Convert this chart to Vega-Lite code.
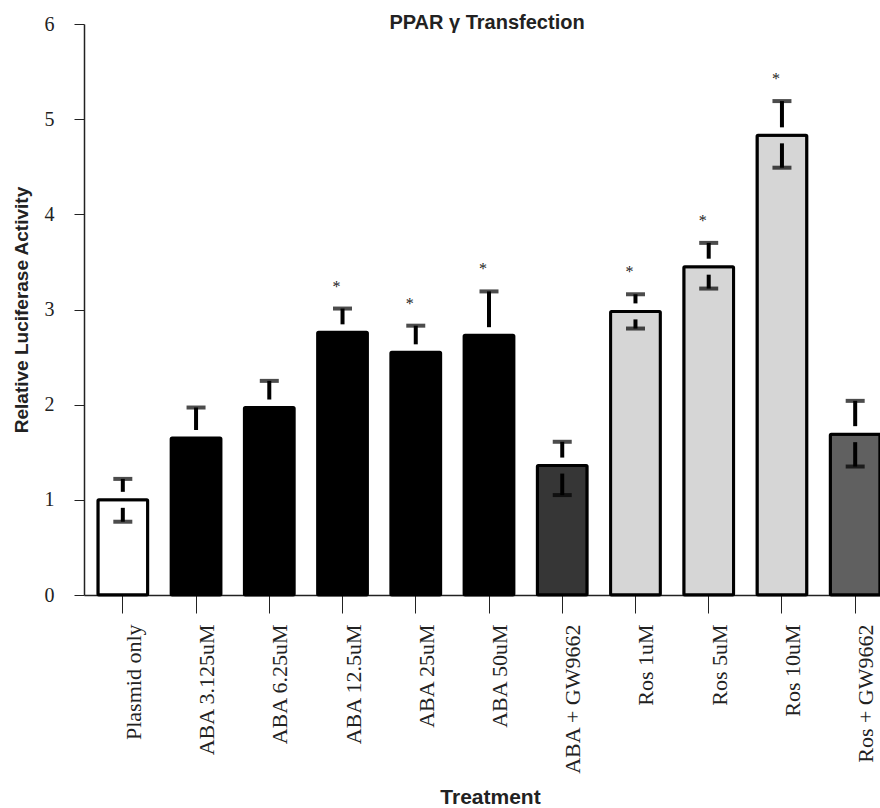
{
  "$schema": "https://vega.github.io/schema/vega-lite/v6.json",
  "autosize": {"type": "none"},
  "width": 796,
  "height": 571,
  "padding": {"left": 84, "top": 24, "right": 0, "bottom": 213},
  "background": "white",
  "config": {"view": {"stroke": null}},
  "title": {"text": "PPAR γ Transfection", "font": "Liberation Sans", "fontSize": 20, "fontWeight": "bold", "color": "#222", "anchor": "middle", "offset": -19, "dx": 5},
  "data": {"values": [
    {"t": "Plasmid only", "v": 1.0, "up": 1.22, "lo": 0.77, "sig": "", "grp": "ctrl"},
    {"t": "ABA 3.125uM", "v": 1.65, "up": 1.97, "lo": 1.33, "sig": "", "grp": "aba"},
    {"t": "ABA 6.25uM", "v": 1.97, "up": 2.25, "lo": 1.69, "sig": "", "grp": "aba"},
    {"t": "ABA 12.5uM", "v": 2.76, "up": 3.01, "lo": 2.51, "sig": "*", "grp": "aba"},
    {"t": "ABA 25uM", "v": 2.55, "up": 2.83, "lo": 2.27, "sig": "*", "grp": "aba"},
    {"t": "ABA 50uM", "v": 2.73, "up": 3.19, "lo": 2.27, "sig": "*", "grp": "aba"},
    {"t": "ABA + GW9662", "v": 1.36, "up": 1.61, "lo": 1.05, "sig": "", "grp": "abagw"},
    {"t": "Ros 1uM", "v": 2.98, "up": 3.16, "lo": 2.80, "sig": "*", "grp": "ros"},
    {"t": "Ros 5uM", "v": 3.45, "up": 3.70, "lo": 3.22, "sig": "*", "grp": "ros"},
    {"t": "Ros 10uM", "v": 4.83, "up": 5.19, "lo": 4.49, "sig": "*", "grp": "ros"},
    {"t": "Ros + GW9662", "v": 1.69, "up": 2.04, "lo": 1.35, "sig": "", "grp": "rosgw"}
  ]},
  "encoding": {
    "x": {
      "field": "t", "type": "nominal", "sort": null,
      "scale": {"range": [0, 810], "paddingInner": 0.32, "paddingOuter": 0.19},
      "axis": {
        "title": "Treatment", "titleFont": "Liberation Sans", "titleFontSize": 21, "titleFontWeight": "bold", "titleColor": "#222",
        "titleX": 406, "titleY": 191, "titleBaseline": "top",
        "labelAngle": -90, "labelFont": "Liberation Serif", "labelFontSize": 22, "labelColor": "#222",
        "labelPadding": 11, "labelOffset": 11,
        "tickSize": 18, "tickColor": "#222", "domainColor": "#222", "tickWidth": 1, "domainWidth": 1.5
      }
    }
  },
  "layer": [
    {
      "mark": {"type": "bar", "stroke": "black", "strokeWidth": 3, "cornerRadius": 1},
      "encoding": {
        "y": {
          "field": "v", "type": "quantitative",
          "scale": {"domain": [0, 6], "nice": false},
          "axis": {
            "title": "Relative Luciferase Activity", "titleFont": "Liberation Sans", "titleFontSize": 19, "titleFontWeight": "bold", "titleColor": "#222",
            "titleX": -63, "titleBaseline": "middle",
            "values": [0, 1, 2, 3, 4, 5, 6], "format": "d", "grid": false,
            "labelFont": "Liberation Serif", "labelFontSize": 20, "labelColor": "#222", "labelPadding": 20,
            "tickSize": 10, "tickColor": "#222", "domainColor": "#222", "domainWidth": 1.5
          }
        },
        "fill": {
          "field": "grp", "type": "nominal", "legend": null,
          "scale": {"domain": ["ctrl", "aba", "abagw", "ros", "rosgw"], "range": ["white", "black", "#363636", "#d6d6d6", "#606060"]}
        }
      }
    },
    {
      "mark": {"type": "rule", "color": "black", "strokeWidth": 4, "y2Offset": -8},
      "encoding": {"y": {"field": "up", "type": "quantitative"}, "y2": {"field": "v"}}
    },
    {
      "mark": {"type": "tick", "color": "black", "size": 19, "thickness": 4},
      "encoding": {"y": {"field": "up", "type": "quantitative"}}
    },
    {
      "mark": {"type": "rule", "color": "black", "strokeWidth": 4, "yOffset": 8},
      "encoding": {"y": {"field": "v", "type": "quantitative"}, "y2": {"field": "lo"}}
    },
    {
      "mark": {"type": "tick", "color": "black", "size": 19, "thickness": 4},
      "encoding": {"y": {"field": "lo", "type": "quantitative"}}
    },
    {
      "mark": {"type": "text", "font": "Liberation Serif", "fontSize": 16, "color": "#222", "dy": -14, "dx": -6, "baseline": "bottom"},
      "encoding": {"y": {"field": "up", "type": "quantitative"}, "text": {"field": "sig"}}
    }
  ]
}
